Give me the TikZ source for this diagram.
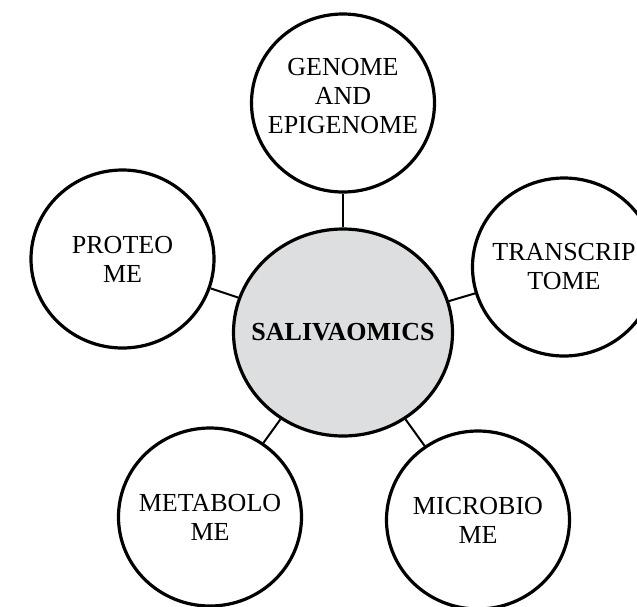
\documentclass[tikz,border=0pt]{standalone}
\usepackage{fontspec}
\setmainfont{Liberation Serif}
\usetikzlibrary{shapes.geometric}
\definecolor{SalivaGray}{RGB}{221,222,224}

\begin{document}
\begin{tikzpicture}[x=1pt, y=-1pt,
  omic/.style={ellipse, draw, line width=3.2pt, minimum width=183pt, minimum height=178pt,
    inner sep=-30pt, align=center, font=\fontsize{26}{29}\selectfont},
  link/.style={line width=2pt}]
  \useasboundingbox (0,0) rectangle (637,606);
  % centre
  \node[omic, fill=SalivaGray, minimum width=219pt, minimum height=207pt,
    font=\fontsize{26}{29}\selectfont\bfseries] (sal) at (343,332.5) {SALIVAOMICS};
  % satellites
  \node[omic, text depth=14pt] (gen) at (343,103) {GENOME\\AND\\EPIGENOME};
  \node[omic] (tra) at (564,267) {TRANSCRIP\\TOME};
  \node[omic] (mic) at (478,520) {MICROBIO\\ME};
  \node[omic] (met) at (210,517) {METABOLO\\ME};
  \node[omic] (pro) at (122.5,259) {PROTEO\\ME};
  % spokes
  \foreach \n in {gen,tra,mic,met,pro} \draw[link] (sal) -- (\n);
\end{tikzpicture}
\end{document}
